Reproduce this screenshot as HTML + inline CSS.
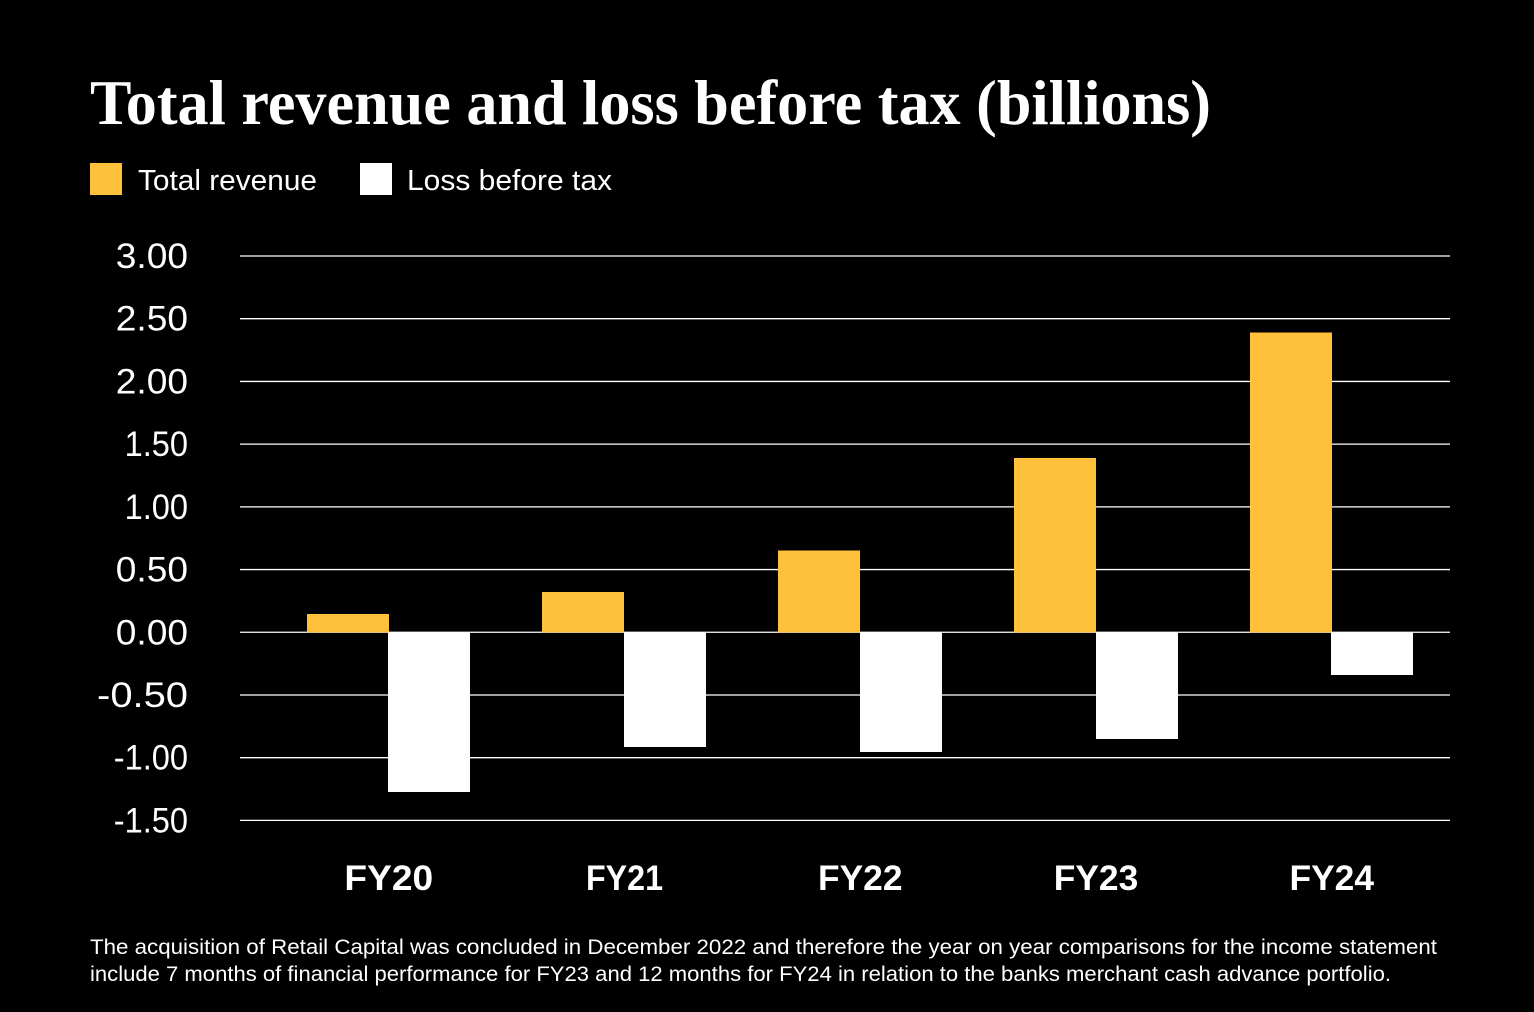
<!DOCTYPE html>
<html lang="en">
<head>
<meta charset="utf-8">
<title>Total revenue and loss before tax (billions)</title>
<style>
html,body{margin:0;padding:0;background:#000;}
body{width:1534px;height:1012px;overflow:hidden;}
svg{display:block;}
text{fill:#fff;font-family:"Liberation Sans",sans-serif;}
#chart-title{font-family:"Liberation Serif",serif;font-weight:700;font-size:63px;}
.legend-text{font-size:29px;}
.foot{font-size:21px;}
.ytick{font-size:35px;}
.xtick{font-size:35px;font-weight:700;}
#bars rect{shape-rendering:crispEdges;}
</style>
</head>
<body>
<svg id="chart" width="1534" height="1012" viewBox="0 0 1534 1012" xmlns="http://www.w3.org/2000/svg">
  <rect width="1534" height="1012" fill="#000"/>
  <text id="chart-title" x="90" y="124" textLength="1121" lengthAdjust="spacingAndGlyphs">Total revenue and loss before tax (billions)</text>
  <rect x="90" y="163" width="32" height="32" fill="#ffc13b"/>
  <text class="legend-text" x="138" y="190" textLength="179" lengthAdjust="spacingAndGlyphs">Total revenue</text>
  <rect x="360" y="163" width="32" height="32" fill="#ffffff"/>
  <text class="legend-text" x="407" y="190" textLength="205" lengthAdjust="spacingAndGlyphs">Loss before tax</text>
  <g id="grid"></g>
  <g id="yaxis"></g>
  <g id="bars"></g>
  <g id="xaxis"></g>
  <text class="foot" x="90" y="954" textLength="1347" lengthAdjust="spacingAndGlyphs">The acquisition of Retail Capital was concluded in December 2022 and therefore the year on year comparisons for the income statement</text>
  <text class="foot" x="90" y="981" textLength="1301" lengthAdjust="spacingAndGlyphs">include 7 months of financial performance for FY23 and 12 months for FY24 in relation to the banks merchant cash advance portfolio.</text>
</svg>
<script>
const categories = ['FY20', 'FY21', 'FY22', 'FY23', 'FY24'];
const totalRevenue = [0.145, 0.32, 0.65, 1.39, 2.39];
const lossBeforeTax = [-1.275, -0.915, -0.955, -0.85, -0.34];
const yTicks = [3, 2.5, 2, 1.5, 1, 0.5, 0, -0.5, -1, -1.5];
const yTickLabels = ['3.00', '2.50', '2.00', '1.50', '1.00', '0.50', '0.00', '-0.50', '-1.00', '-1.50'];

const NS = 'http://www.w3.org/2000/svg';
const Y_MAX = 3, Y_MIN = -1.5, Y_TOP = 256, Y_BOTTOM = 820.4;
const GRID_LEFT = 240, GRID_RIGHT = 1450;
const FIRST_CENTER = 388.75, STEP = 235.75, BAR_W = 82;

function yScale(v) {
  return Y_TOP + (Y_MAX - v) / (Y_MAX - Y_MIN) * (Y_BOTTOM - Y_TOP);
}
function xCenter(i) {
  return FIRST_CENTER + i * STEP;
}
function make(tag, attrs) {
  const el = document.createElementNS(NS, tag);
  for (const k in attrs) el.setAttribute(k, attrs[k]);
  return el;
}
/* The reference typeface has a narrow 1 and wide round 0, so fit each label's width. */
function fitText(el, factor, anchorRight, x) {
  const natural = el.getComputedTextLength();
  const w = natural * factor;
  el.setAttribute('textLength', w);
  el.setAttribute('lengthAdjust', 'spacingAndGlyphs');
  el.setAttribute('x', anchorRight ? x - w : x - w / 2);
}

const grid = document.getElementById('grid');
const yaxis = document.getElementById('yaxis');
const bars = document.getElementById('bars');
const xaxis = document.getElementById('xaxis');

yTicks.forEach(function (t, i) {
  const line = make('line', { x1: GRID_LEFT, x2: GRID_RIGHT, y1: yScale(t), y2: yScale(t), stroke: '#fff', 'stroke-width': 1.3 });
  
  
  grid.appendChild(line);

  const label = make('text', { x: 188, y: yScale(t) + 12, class: 'ytick' });
  
  
  label.textContent = yTickLabels[i];
  yaxis.appendChild(label);
  fitText(label, yTickLabels[i].indexOf('1') >= 0 ? 0.93 : (yTickLabels[i].charAt(0) === '-' ? 1.14 : 1.06), true, 188);
});

function drawBar(value, left, color, name) {
  const top = Math.min(yScale(value), yScale(0));
  const h = Math.abs(yScale(value) - yScale(0));
  const r = make('rect', { x: left, y: top, width: BAR_W, height: h, fill: color });
  
  
  bars.appendChild(r);
}

categories.forEach(function (c, i) {
  const cx = xCenter(i);
  drawBar(totalRevenue[i], Math.floor(cx + 0.25) - BAR_W, '#ffc13b', 'bar-revenue');
  drawBar(lossBeforeTax[i], Math.round(cx - 0.3), '#ffffff', 'bar-loss');
  const label = make('text', { x: cx, y: 890, class: 'xtick' });
  
  
  label.textContent = c;
  xaxis.appendChild(label);
  fitText(label, c.indexOf('1') >= 0 ? 0.92 : (c.indexOf('0') >= 0 ? 1.06 : 1.01), false, cx);
});
</script>
</body>
</html>
